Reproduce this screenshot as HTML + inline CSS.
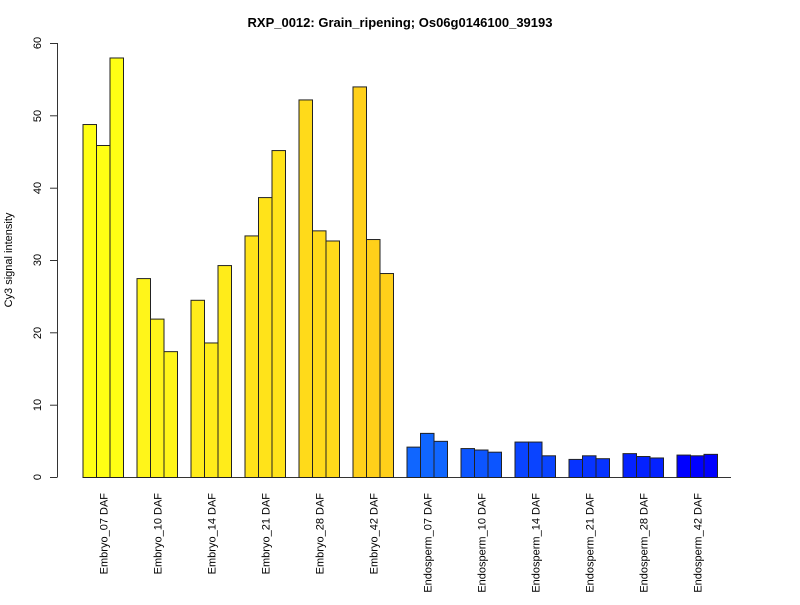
<!DOCTYPE html><html><head><style>body{margin:0;background:#fff}</style></head><body>
<svg width="800" height="600" xmlns="http://www.w3.org/2000/svg" font-family="Liberation Sans, sans-serif">
<rect width="800" height="600" fill="#fff"/>
<text x="400" y="27" text-anchor="middle" font-weight="bold" font-size="13">RXP_0012: Grain_ripening; Os06g0146100_39193</text>
<text transform="translate(12,260) rotate(-90)" text-anchor="middle" font-size="11">Cy3 signal intensity</text>
<g stroke="#333" stroke-width="1">
<line x1="57.5" y1="43" x2="57.5" y2="477"/>
<line x1="50" y1="477.5" x2="57.5" y2="477.5"/><line x1="50" y1="405.2" x2="57.5" y2="405.2"/><line x1="50" y1="332.8" x2="57.5" y2="332.8"/><line x1="50" y1="260.5" x2="57.5" y2="260.5"/><line x1="50" y1="188.2" x2="57.5" y2="188.2"/><line x1="50" y1="115.8" x2="57.5" y2="115.8"/><line x1="50" y1="43.5" x2="57.5" y2="43.5"/>
<line x1="83" y1="477.5" x2="731" y2="477.5"/>
</g>
<g font-size="11" text-anchor="middle">
<text transform="translate(41,477) rotate(-90)">0</text><text transform="translate(41,405) rotate(-90)">10</text><text transform="translate(41,333) rotate(-90)">20</text><text transform="translate(41,260) rotate(-90)">30</text><text transform="translate(41,188) rotate(-90)">40</text><text transform="translate(41,116) rotate(-90)">50</text><text transform="translate(41,43) rotate(-90)">60</text>
</g>
<g id="bars" stroke="#222" stroke-width="1"></g>
<g id="labs" font-size="11" text-anchor="end"></g>
</svg>
<script>
var v=[[48.8,45.9,58],[27.5,21.9,17.4],[24.5,18.6,29.3],[33.4,38.7,45.2],[52.2,34.1,32.7],[54.0,32.9,28.2],[4.2,6.1,5.0],[4.0,3.8,3.5],[4.9,4.9,3.0],[2.5,3.0,2.6],[3.3,2.9,2.7],[3.1,3.0,3.2]];
var n=["Embryo_07 DAF","Embryo_10 DAF","Embryo_14 DAF","Embryo_21 DAF","Embryo_28 DAF","Embryo_42 DAF","Endosperm_07 DAF","Endosperm_10 DAF","Endosperm_14 DAF","Endosperm_21 DAF","Endosperm_28 DAF","Endosperm_42 DAF"];
var yc=["#FFFF14","#FFF51A","#FFEC1A","#FFE31A","#FFDA1A","#FFD01A"];
var bc=["#1066FF","#0C55FF","#0A44FF","#0733FF","#0422FF","#0000FF"];
var s="",l="";
for(var i=0;i<12;i++){var x0=83+54*i;var c=i<6?yc[i]:bc[i-6];
for(var j=0;j<3;j++){var h=v[i][j]*7.233;s+='<rect x="'+(x0+13.5*j)+'" y="'+(477.5-h)+'" width="13.5" height="'+h+'" fill="'+c+'"/>';}
l+='<text transform="translate('+(x0+24.5)+',493) rotate(-90)">'+n[i]+'</text>';}
document.getElementById("bars").innerHTML=s;document.getElementById("labs").innerHTML=l;
</script>
</body></html>
